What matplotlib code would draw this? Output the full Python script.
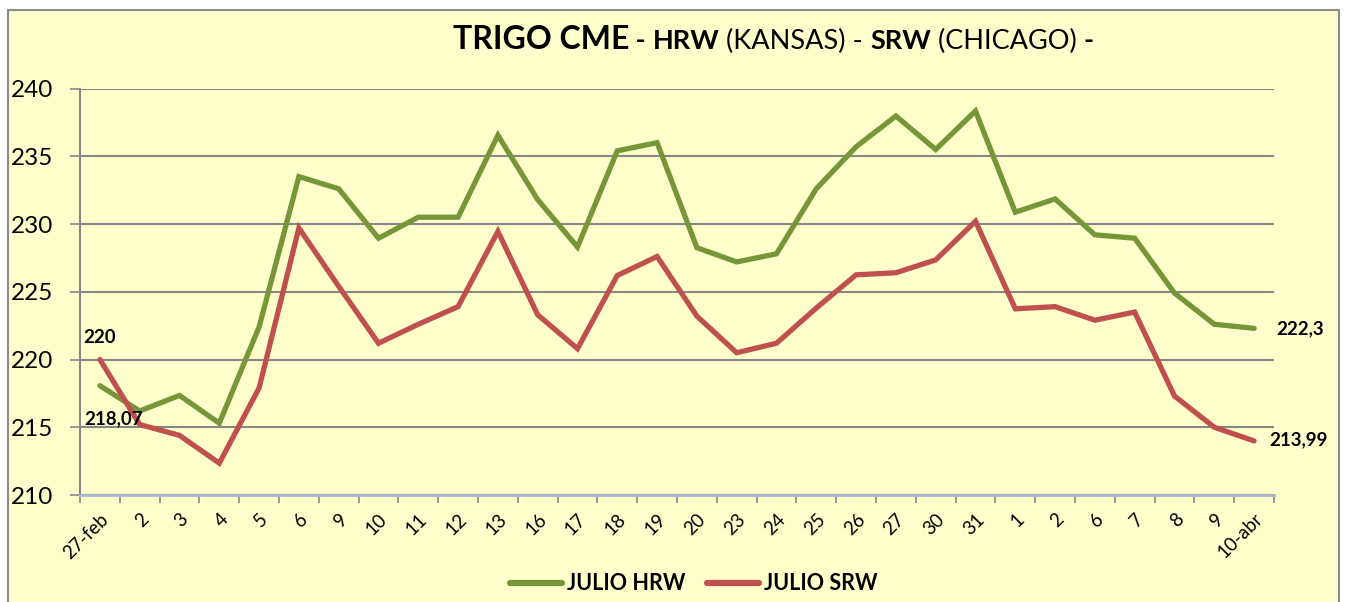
import matplotlib

matplotlib.use("Agg")
import matplotlib.pyplot as plt
from matplotlib.patches import Rectangle
import numpy as np

# --- data --------------------------------------------------------------------
dates = ["27-feb", "2", "3", "4", "5", "6", "9", "10", "11", "12", "13", "16",
         "17", "18", "19", "20", "23", "24", "25", "26", "27", "30", "31", "1",
         "2", "6", "7", "8", "9", "10-abr"]
julio_hrw = [218.07, 216.2, 217.35, 215.3, 222.4, 233.5, 232.6, 228.95, 230.5,
             230.5, 236.55, 231.8, 228.3, 235.4, 236.0, 228.25, 227.2, 227.8,
             232.6, 235.7, 237.97, 235.5, 238.34, 230.87, 231.85, 229.2, 228.95,
             224.9, 222.6, 222.3]
julio_srw = [220.0, 215.2, 214.4, 212.35, 217.9, 229.7, 225.4, 221.2, 222.6,
             223.9, 229.45, 223.3, 220.8, 226.2, 227.6, 223.2, 220.5, 221.2,
             223.8, 226.25, 226.4, 227.35, 230.2, 223.74, 223.9, 222.9, 223.5,
             217.3, 215.0, 213.99]
y_ticks = [210, 215, 220, 225, 230, 235, 240]

GREEN = "#77963A"
RED = "#C0504D"
BG = "#FFFFCC"
GRID = "#878787"
FONT = "Lato"

plt.rcParams["font.family"] = [FONT, "DejaVu Sans"]

W, H = 1346, 602
fig = plt.figure(figsize=(W / 100, H / 100), dpi=100)
fig.patch.set_facecolor("white")

# chart area frame (Excel-like)
fig.patches.append(Rectangle((8 / W, -0.05), (1339 - 8) / W, 1.05 - 10 / H,
                             transform=fig.transFigure, facecolor=BG,
                             edgecolor="#8C8C8C", linewidth=1.5, zorder=-10))

ax = fig.add_axes([80 / W, 1 - 495 / H, (1274 - 80) / W, (495 - 88.5) / H])
ax.set_facecolor(BG)

x = np.arange(len(dates))
ax.plot(x, julio_hrw, color=GREEN, lw=3.8, solid_joinstyle="miter",
        solid_capstyle="round", label="JULIO HRW", zorder=3)
ax.plot(x, julio_srw, color=RED, lw=3.8, solid_joinstyle="miter",
        solid_capstyle="round", label="JULIO SRW", zorder=3)

ax.set_xlim(-0.5, len(dates) - 0.5)
ax.set_ylim(210, 240)
ax.set_yticks(y_ticks)
ax.set_yticklabels([str(v) for v in y_ticks], fontsize=17.5)
ax.yaxis.grid(True, color=GRID, lw=1.5)
ax.set_axisbelow(True)

ax.set_xticks(x)
ax.set_xticklabels(dates, rotation=45, ha="right", va="top",
                   rotation_mode="anchor", fontsize=13.5)
ax.set_xticks(np.arange(len(dates) + 1) - 0.5, minor=True)
ax.tick_params(axis="x", which="major", length=0, pad=11)
ax.tick_params(axis="x", which="minor", length=6, width=1.2, color=GRID)
ax.tick_params(axis="y", length=7, width=1.2, color=GRID, pad=12)

for s in ("top", "right"):
    ax.spines[s].set_visible(False)
ax.spines["left"].set_color(GRID)
ax.spines["left"].set_linewidth(1.5)
ax.spines["bottom"].set_color("#A9B6C8")
ax.spines["bottom"].set_linewidth(2)

# data labels at both ends
lbl = dict(fontsize=13.5, fontweight="bold", color="black")
ax.annotate("220", (0, julio_srw[0]), xytext=(-12, 10),
            textcoords="offset points", ha="left", va="bottom", **lbl)
ax.annotate("218,07", (0, julio_hrw[0]), xytext=(-11, -24),
            textcoords="offset points", ha="left", va="center", **lbl)
ax.annotate("222,3", (len(dates) - 1, julio_hrw[-1]), xytext=(16, 0),
            textcoords="offset points", ha="left", va="center", **lbl)
ax.annotate("213,99", (len(dates) - 1, julio_srw[-1]), xytext=(11, 1),
            textcoords="offset points", ha="left", va="center", **lbl)

leg = fig.legend(loc="center", bbox_to_anchor=(694 / W, 1 - 584 / H), ncol=2,
                 frameon=False, prop={"family": FONT, "weight": "bold", "size": 15.5},
                 handlelength=2.4, handletextpad=0.25, columnspacing=1.0)
for line in leg.get_lines():
    line.set_linewidth(4.5)

# title with mixed weights
pieces = [("TRIGO CME", "bold", 23), (" - ", "bold", 19.5), ("HRW", "bold", 19.5),
          (" (KANSAS) - ", "normal", 19.5), ("SRW", "bold", 19.5),
          (" (CHICAGO) ", "normal", 19.5), ("-", "bold", 19.5)]
renderer = fig.canvas.get_renderer()
xpos = 453
for txt, weight, size in pieces:
    t = fig.text(xpos / W, 1 - 49 / H, txt, fontsize=size, fontweight=weight,
                 ha="left", va="baseline")
    bb = t.get_window_extent(renderer=renderer)
    xpos = bb.x1

fig.savefig("out.png", dpi=100, facecolor=fig.get_facecolor())
